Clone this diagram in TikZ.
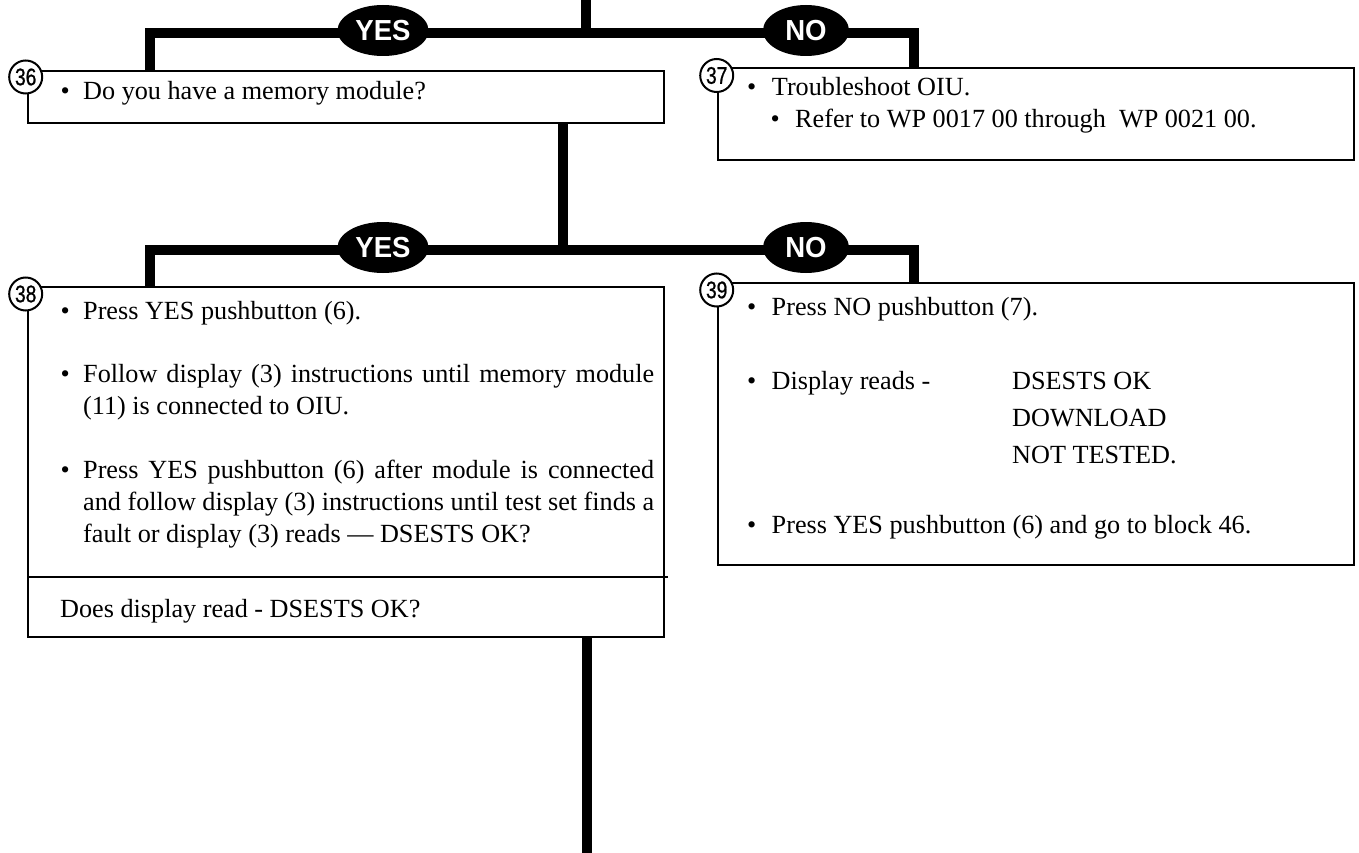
\documentclass[tikz,border=0pt]{standalone}
\usepackage{fontspec}
\setmainfont{Liberation Serif}
\newfontfamily\numfont[FakeStretch=0.8,FakeBold=0.8]{Liberation Sans}
\newfontfamily\ynfont[FakeStretch=0.95]{Liberation Sans}
\usetikzlibrary{shapes.geometric}
\begin{document}
\begin{tikzpicture}[x=1pt,y=-1pt,
  box/.style={draw, line width=2pt, rectangle, inner sep=0pt, outer sep=0pt, anchor=north west},
  bar/.style={line width=10pt, line join=miter},
  thin/.style={line width=2pt},
  yn/.style={ellipse, fill=black, text=white, inner sep=0pt, minimum width=91pt, minimum height=51pt, font=\ynfont\bfseries\fontsize{29}{29}\selectfont},
  num/.style={circle, draw, line width=2pt, fill=white, minimum size=33pt, inner sep=0pt, font=\numfont\fontsize{24}{24}\selectfont},
  txt/.style={anchor=base west, inner sep=0pt, font=\fontsize{26.2}{31.8}\selectfont},
]
\useasboundingbox (0,0) rectangle (1359,853);
% boxes
\node[box, minimum width=636.6pt, minimum height=52pt] (b36) at (27.7,70.7) {};
\node[box, minimum width=635.7pt, minimum height=92pt] (b37) at (718.3,68) {};
\node[box, minimum width=636.3pt, minimum height=350.3pt] (b38) at (27.7,287) {};
\node[box, minimum width=635.7pt, minimum height=282pt] (b39) at (718.3,283) {};
% divider in box 38
\coordinate (dv) at (668,577.3);
\draw[thin] (dv -| b38.west) -- (dv);
% first branch
\coordinate (top) at (585.7,0);
\coordinate (j1) at (585.7,33);
\coordinate (l1) at (150,33);
\coordinate (r1) at (913.5,33);
\draw[bar] (top) -- (j1);
\draw[bar] (l1 |- b36.north) -- (l1) -- (r1) -- (r1 |- b37.north);
\node[yn] (y1) at (383,30.5) {YES};
\node[yn, minimum width=86pt] (no1) at (806,30.5) {NO};
% second branch
\coordinate (j2) at (562.5,250);
\coordinate (l2) at (150,250);
\coordinate (r2) at (913.5,250);
\draw[bar] (b36.south -| j2) -- (j2);
\draw[bar] (l2 |- b38.north) -- (l2) -- (r2) -- (r2 |- b39.north);
\node[yn] (y2) at (383,247.5) {YES};
\node[yn, minimum width=86pt] (no2) at (806,247.5) {NO};
% bottom trunk
\coordinate (bot) at (587.3,853);
\draw[bar] (b38.south -| bot) -- (bot);
% circled numbers
\node[num] (n36) at (25.7,77) {36};
\node[num] (n37) at (716.7,75.5) {37};
\node[num] (n38) at (25.7,294) {38};
\node[num] (n39) at (716.7,290) {39};
% box 36 text
\node[txt] (a1) at (60.4,99.3) {\textbullet};
\node[txt] (a2) at (83,99.3) {Do you have a memory module?};
% box 37 text
\node[txt] (c1) at (747,96) {\textbullet};
\node[txt] (c2) at (771.7,96) {Troubleshoot OIU.};
\node[txt] (c3) at (770.4,128) {\textbullet};
\node[txt] (c4) at (795,128) {Refer to WP 0017 00 through\ \ WP 0021 00.};
% box 38 text
\node[txt] (d1) at (60.4,319) {\textbullet};
\node[txt] (d2) at (83,319) {Press YES pushbutton (6).};
\node[txt] (d3) at (60.4,382.6) {\textbullet};
\node[txt] (d4) at (83,382.6) {\makebox[571pt][s]{Follow display (3) instructions until memory module}};
\node[txt] (d5) at (83,414.4) {(11) is connected to OIU.};
\node[txt] (d6) at (60.4,478.5) {\textbullet};
\node[txt] (d7) at (83,478.5) {\makebox[571pt][s]{Press YES pushbutton (6) after module is connected}};
\node[txt] (d8) at (83,510.5) {\makebox[571pt][s]{and follow display (3) instructions until test set finds a}};
\node[txt] (d9) at (83,542.5) {fault or display (3) reads — DSESTS OK?};
\node[txt] (d10) at (60,617) {Does display read - DSESTS OK?};
% box 39 text
\node[txt] (e1) at (747,315) {\textbullet};
\node[txt] (e2) at (771.5,315) {Press NO pushbutton (7).};
\node[txt] (e3) at (747,389) {\textbullet};
\node[txt] (e4) at (771.5,389) {Display reads -};
\node[txt] (e5) at (1012,389) {DSESTS OK};
\node[txt] (e6) at (1012,426) {DOWNLOAD};
\node[txt] (e7) at (1012,463) {NOT TESTED.};
\node[txt] (e8) at (747,533) {\textbullet};
\node[txt] (e9) at (771.5,533) {Press YES pushbutton (6) and go to block 46.};
\end{tikzpicture}
\end{document}
